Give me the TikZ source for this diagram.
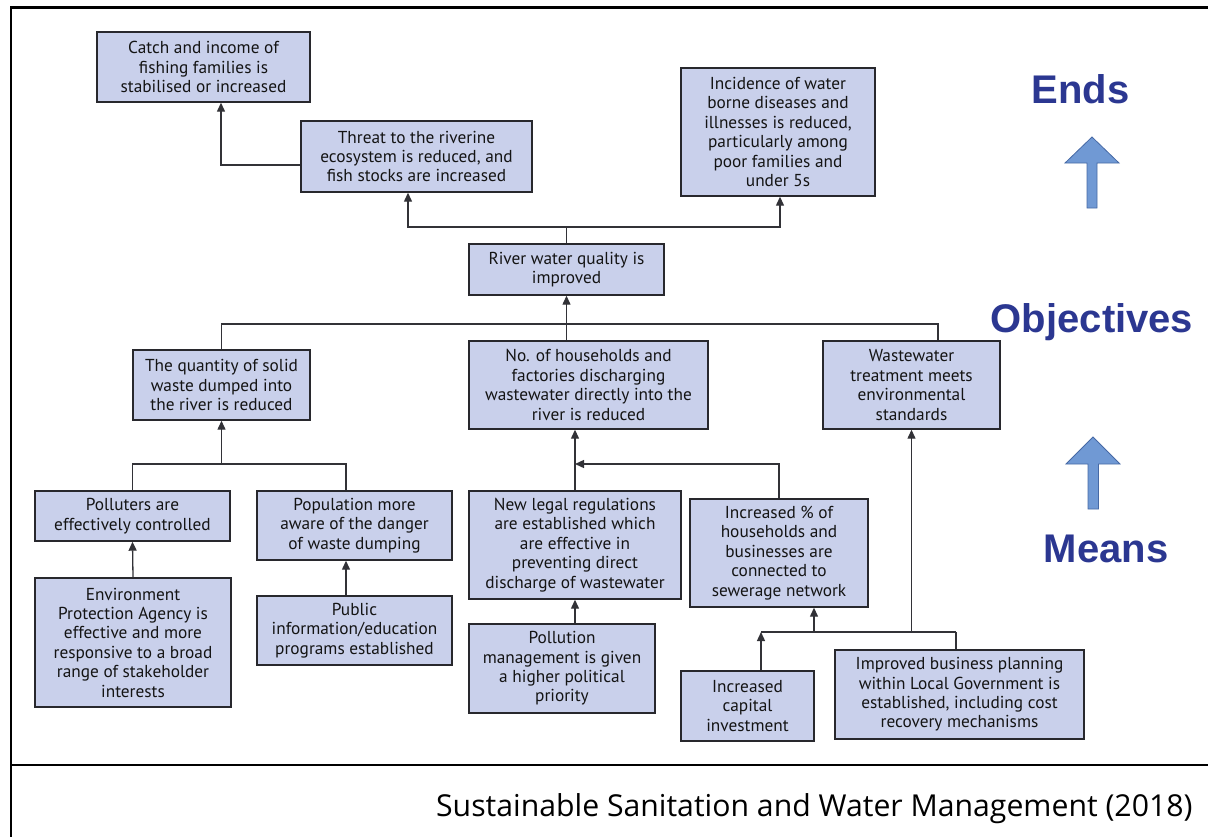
\documentclass[tikz,border=0pt]{standalone}
\usepackage{fontspec}
\setmainfont{PT Sans}
\newfontfamily\capfont{Open Sans}
\newfontfamily\headfont{Liberation Sans}
\usetikzlibrary{arrows.meta}

\definecolor{boxfill}{RGB}{201,208,235}
\definecolor{boxline}{RGB}{40,40,45}
\definecolor{linkcol}{RGB}{50,50,55}
\definecolor{headblue}{RGB}{43,55,145}
\definecolor{arrowfill}{RGB}{112,153,212}
\definecolor{arrowline}{RGB}{70,105,165}

\begin{document}
\begin{tikzpicture}[x=1pt,y=-1pt,
  box/.style n args={2}{draw=boxline, fill=boxfill, line width=1.4pt, inner sep=0pt,
    align=center, minimum width=#1, minimum height=#2,
    font=\fontsize{17.3}{19.4}\selectfont, text=black!92},
  link/.style={draw=linkcol, line width=1.3pt},
  arr/.style={link, -{Triangle[length=9pt,width=8pt]}},
  heading/.style={font=\headfont\bfseries\fontsize{40}{44}\selectfont, text=headblue, anchor=base},
  bigarrow/.style={fill=arrowfill, draw=arrowline, line width=0.8pt},
  frame/.style={draw=black, line width=2.2pt}]

\useasboundingbox (0,0) rectangle (1208,836);

% outer frame and caption separator
\draw[frame] (11,840) -- (11,7.5) -- (1212,7.5);
\draw[frame] (11,765) -- (1212,765);

% ---- ends ----
\node[box={213pt}{70pt}] (catch) at (203.5,67)
  {Catch and income of\\fishing families is\\stabilised or increased};
\node[box={231pt}{71pt}] (threat) at (416.5,156.5)
  {Threat to the riverine\\ecosystem is reduced, and\\fish stocks are increased};
\node[box={194pt}{128pt}] (incid) at (778,132)
  {Incidence of water\\borne diseases and\\illnesses is reduced,\\particularly among\\poor families and\\under 5s};

% ---- objectives ----
\node[box={195pt}{51pt}] (river) at (566.5,269.5)
  {River water quality is\\improved};
\node[box={177pt}{70pt}] (quant) at (221.5,385)
  {The quantity of solid\\waste dumped into\\the river is reduced};
\node[box={239pt}{88pt}] (house) at (588.5,385)
  {No. of households and\\factories discharging\\wastewater directly into the\\river is reduced};
\node[box={177pt}{88pt}] (waste) at (911.5,385)
  {Wastewater\\treatment meets\\environmental\\standards};

% ---- means ----
\node[box={195pt}{50pt}] (poll) at (132.5,516)
  {Polluters are\\effectively controlled};
\node[box={195pt}{69pt}] (popu) at (354.5,525.5)
  {Population more\\aware of the danger\\of waste dumping};
\node[box={212pt}{108pt}] (newlegal) at (575,545)
  {New legal regulations\\are established which\\are effective in\\preventing direct\\discharge of wastewater};
\node[box={178pt}{108pt}] (incr) at (779,553)
  {Increased \% of\\households and\\businesses are\\connected to\\sewerage network};
\node[box={196pt}{129pt}] (epa) at (133,642.5)
  {Environment\\Protection Agency is\\effective and more\\responsive to a broad\\range of stakeholder\\interests};
\node[box={195pt}{69pt}] (public) at (354.5,630.5)
  {Public\\information/education\\programs established};
\node[box={186pt}{89pt}] (pollut) at (562,668.5)
  {Pollution\\management is given\\a higher political\\priority};
\node[box={133pt}{70pt}] (capital) at (747.5,706)
  {Increased\\capital\\investment};
\node[box={249pt}{89pt}] (improved) at (959.5,694.5)
  {Improved business planning\\within Local Government is\\established, including cost\\recovery mechanisms};

% junction points of the connector tree
\coordinate (jt) at (566.5,227);
\coordinate (jo) at (566.5,324);
\coordinate (jq) at (221.5,464);
\coordinate (jh) at (575,464);
\coordinate (jbL) at (761,632);
\coordinate (jbI) at (814,632);
\coordinate (jbW) at (911.5,632);
\coordinate (jbR) at (956,632);

% connectors: ends
\draw[arr] ([yshift=-8.5pt]threat.west) -| ([xshift=17.5pt]catch.south);
\draw[link] (river.north) -- (jt);
\draw[arr] (jt) -| ([xshift=-8.5pt]threat.south);
\draw[arr] (jt) -| ([xshift=2pt]incid.south);

% connectors: objectives
\draw[arr] (jo) -- (river.south);
\draw[link] (quant.north) |- (jo) -| ([xshift=26.5pt]waste.north);
\draw[link] (jo) -- (jo |- house.north);

% connectors: means under the solid waste objective
\draw[arr] (jq) -- (quant.south);
\draw[link] (poll.north) |- (jq) -| ([xshift=-8.5pt]popu.north);
\draw[arr] (epa.north) -- (poll.south);
\draw[arr] ([xshift=-8.5pt]public.north) -- ([xshift=-8.5pt]popu.south);

% connectors: means under the wastewater discharge objective
\draw[arr] (newlegal.north) -- (newlegal.north |- house.south);
\draw[arr] (incr.north) |- (jh);
\draw[arr] ([xshift=13pt]pollut.north) -- (newlegal.south);

% connectors: investment and planning
\draw[link] (jbL) -- (jbR);
\draw[arr] ([xshift=13.5pt]capital.north) -- (jbL);
\draw[arr] (jbI) -- ([xshift=35pt]incr.south);
\draw[arr] (jbW) -- (waste.south);
\draw[link] (jbR) -- ([xshift=-3.5pt]improved.north);

% side headings with block arrows
\node[heading] (ends) at (1080.5,103) {Ends};
\node[heading] (objectives) at (1092,332) {Objectives};
\node[heading] (means) at (1106,562) {Means};
\draw[bigarrow] (1092,137) -- (1119,163) -- (1097,163) -- (1097,208) -- (1087,208) -- (1087,163) -- (1065,163) -- cycle;
\draw[bigarrow] (1093,437) -- (1120,464) -- (1098.5,464) -- (1098.5,509) -- (1088,509) -- (1088,464) -- (1066,464) -- cycle;

% source line
\node[font=\capfont\fontsize{30.2}{33}\selectfont, anchor=base east] (source) at (1196,816)
  {Sustainable Sanitation and Water Management (2018)};
\end{tikzpicture}
\end{document}
